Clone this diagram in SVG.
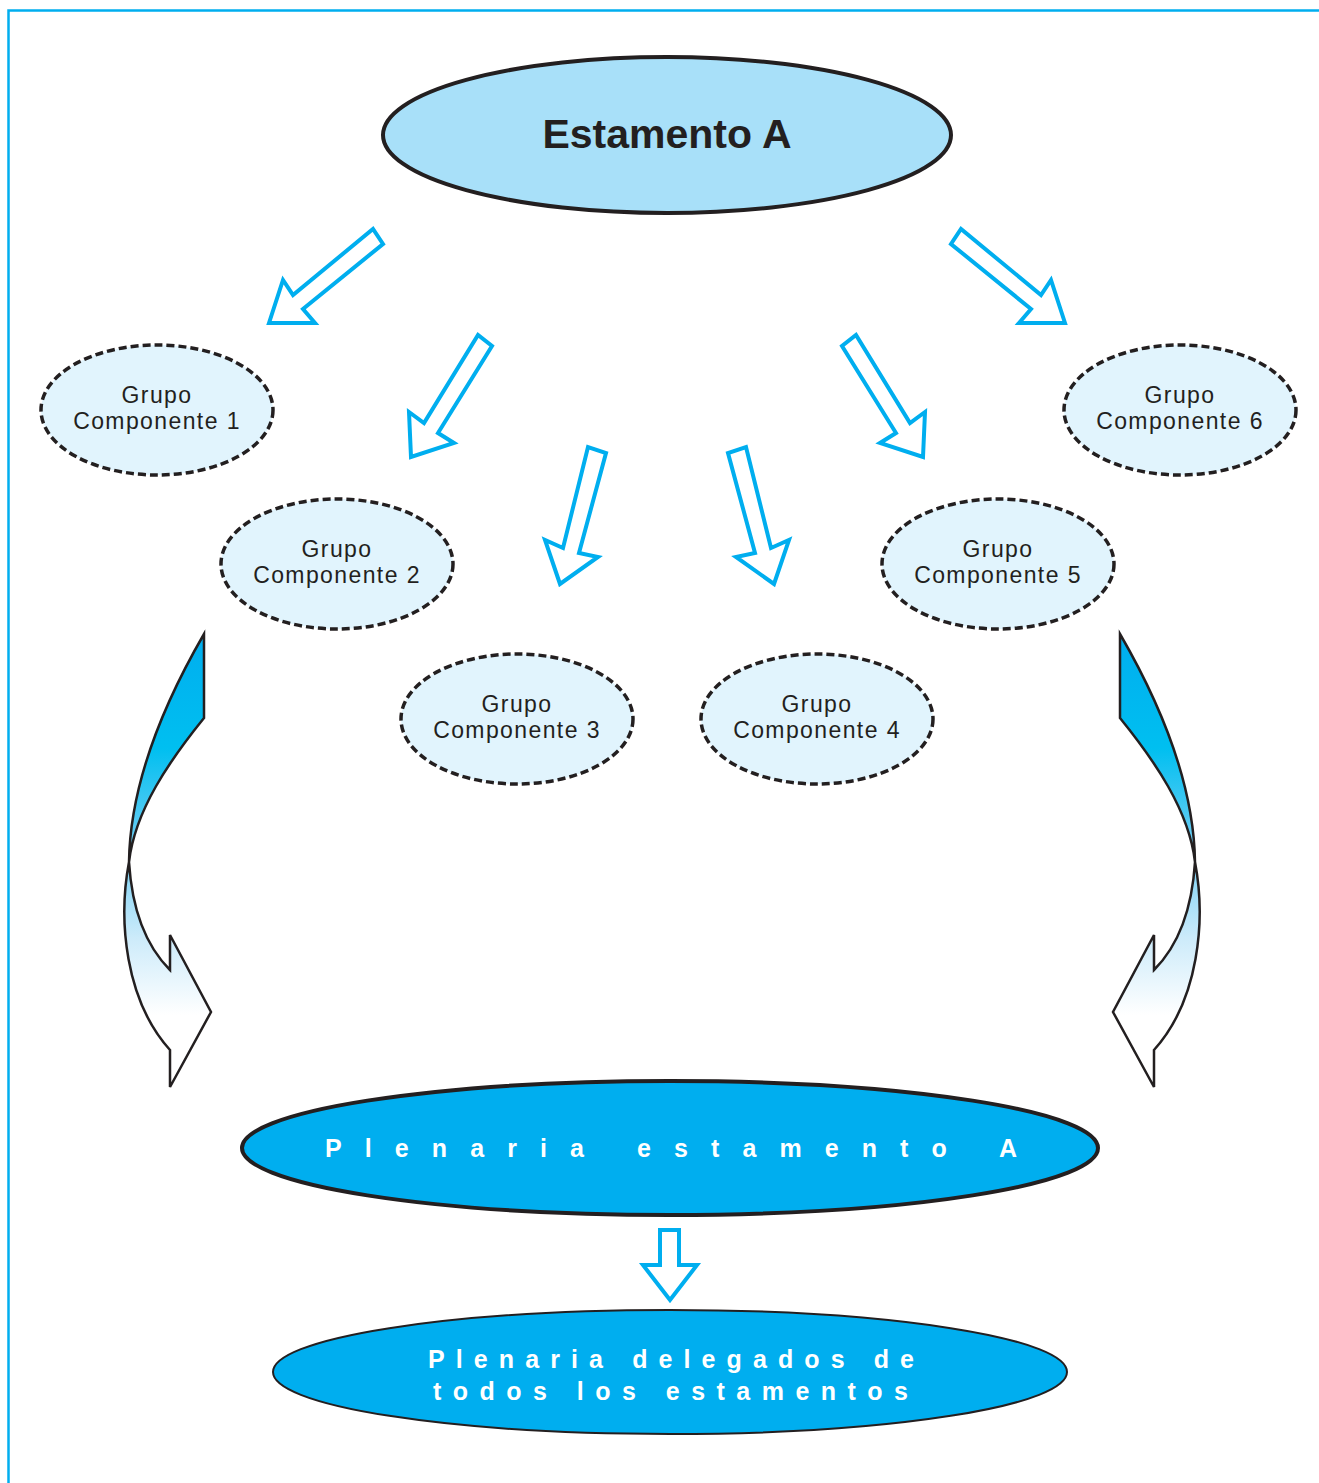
<svg xmlns="http://www.w3.org/2000/svg" width="1319" height="1483" viewBox="0 0 1319 1483">
<defs>
<linearGradient id="curveGrad" gradientUnits="userSpaceOnUse" x1="0" y1="634" x2="0" y2="1015">
<stop offset="0" stop-color="#00aeef"/>
<stop offset="0.3" stop-color="#00bff0"/>
<stop offset="0.55" stop-color="#6ccdf4"/>
<stop offset="0.8" stop-color="#cdebfa"/>
<stop offset="1" stop-color="#ffffff"/>
</linearGradient>
<style>
.border{fill:none;stroke:#00aeef;stroke-width:2.5}
.top{fill:#a8e0f9;stroke:#231f20;stroke-width:4}
.grp{fill:#e1f4fd;stroke:#231f20;stroke-width:3.5;stroke-dasharray:8 4}
.plen{fill:#00aeef;stroke:#231f20;stroke-width:4}
.plen2{fill:#00aeef;stroke:#231f20;stroke-width:2}
.arr{fill:#ffffff;stroke:#00aeef;stroke-width:4;stroke-linejoin:miter}
.curve{fill:url(#curveGrad);stroke:#231f20;stroke-width:2.5;stroke-linejoin:miter}
.gt{font-family:"Liberation Sans",Arial,sans-serif;font-size:23px;letter-spacing:1.4px;fill:#231f20;text-anchor:middle}
.tt{font-family:"Liberation Sans",Arial,sans-serif;font-size:41px;font-weight:bold;fill:#231f20;text-anchor:middle}
.wt{font-family:"Liberation Sans",Arial,sans-serif;font-size:25px;font-weight:bold;fill:#ffffff}
</style>
</defs>
<rect width="1319" height="1483" fill="#ffffff"/>
<path class="border" d="M8.5,1483 V10.5 H1319"/>

<g id="connectors">
<polygon class="arr" points="269,323 283,280 293,295 373,229 383,244 303,309 315,323"/>
<polygon class="arr" points="1065,323 1051,280 1041,295 961,229 951,244 1031,309 1019,323"/>
<polygon class="arr" points="411,457 409,412 424,423 478,335 492,346 438,433 454,443"/>
<polygon class="arr" points="923,457 925,412 910,423 856,335 842,346 896,433 880,443"/>
<polygon class="arr" points="560,584 545,540 563,548 588,447 606,453 579,553 598,557"/>
<polygon class="arr" points="774,584 789,540 771,548 746,447 728,453 755,553 736,557"/>
<polygon class="arr" points="660,1230 679,1230 679,1265 697,1265 670,1300 643,1265 660,1265"/>
<path class="curve" d="M204,634 L204,718 C170,760 135,810 129,862 C132,910 145,945 170,970 L170,935 L211,1012 L170,1087 L170,1050 C125,1000 118,920 129,862 C130,790 160,710 204,634 Z"/>
<path class="curve" transform="translate(1324,0) scale(-1,1)" d="M204,634 L204,718 C170,760 135,810 129,862 C132,910 145,945 170,970 L170,935 L211,1012 L170,1087 L170,1050 C125,1000 118,920 129,862 C130,790 160,710 204,634 Z"/>
</g>

<g id="estamento-a">
<ellipse class="top" cx="667" cy="135" rx="284" ry="78"/>
<text class="tt" x="667" y="148">Estamento A</text>
</g>

<g id="grupo-1">
<ellipse class="grp" cx="157" cy="410" rx="116" ry="65"/>
<text class="gt" x="157" y="403">Grupo</text>
<text class="gt" x="157" y="429">Componente 1</text>
</g>
<g id="grupo-2">
<ellipse class="grp" cx="337" cy="564" rx="116" ry="65"/>
<text class="gt" x="337" y="557">Grupo</text>
<text class="gt" x="337" y="583">Componente 2</text>
</g>
<g id="grupo-3">
<ellipse class="grp" cx="517" cy="719" rx="116" ry="65"/>
<text class="gt" x="517" y="712">Grupo</text>
<text class="gt" x="517" y="738">Componente 3</text>
</g>
<g id="grupo-4">
<ellipse class="grp" cx="817" cy="719" rx="116" ry="65"/>
<text class="gt" x="817" y="712">Grupo</text>
<text class="gt" x="817" y="738">Componente 4</text>
</g>
<g id="grupo-5">
<ellipse class="grp" cx="998" cy="564" rx="116" ry="65"/>
<text class="gt" x="998" y="557">Grupo</text>
<text class="gt" x="998" y="583">Componente 5</text>
</g>
<g id="grupo-6">
<ellipse class="grp" cx="1180" cy="410" rx="116" ry="65"/>
<text class="gt" x="1180" y="403">Grupo</text>
<text class="gt" x="1180" y="429">Componente 6</text>
</g>

<g id="plenaria-estamento">
<ellipse class="plen" cx="670" cy="1148" rx="428" ry="67"/>
<text class="wt" x="325" y="1157" textLength="692" lengthAdjust="spacing">Plenaria estamento A</text>
</g>

<g id="plenaria-delegados">
<ellipse class="plen2" cx="670" cy="1372" rx="397" ry="62"/>
<text class="wt" x="428" y="1368" textLength="486" lengthAdjust="spacing">Plenaria delegados de</text>
<text class="wt" x="433" y="1400" textLength="475" lengthAdjust="spacing">todos los estamentos</text>
</g>
</svg>
